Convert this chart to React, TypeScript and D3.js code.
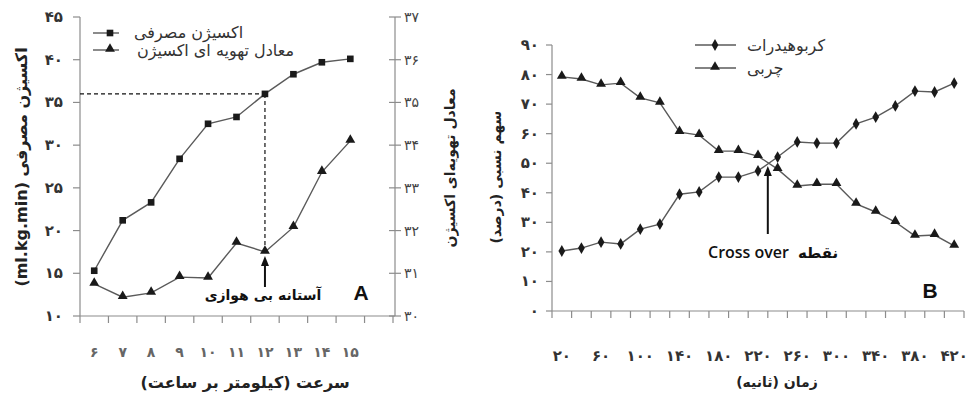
import React from "react";
import * as d3 from "d3";

// ---------- Panel A data ----------
const speeds = [6, 7, 8, 9, 10, 11, 12, 13, 14, 15];
const speedLabels = ["۶", "۷", "۸", "۹", "۱۰", "۱۱", "۱۲", "۱۳", "۱۴", "۱۵"];
const vo2 = [15.3, 21.2, 23.3, 28.4, 32.5, 33.3, 36.0, 38.3, 39.7, 40.1];
const ventEq = [30.75, 30.44, 30.54, 30.91, 30.89, 31.71, 31.5, 32.08, 33.37, 34.1];
const leftTicksA = [10, 15, 20, 25, 30, 35, 40, 45];
const leftTickLabelsA = ["۱۰", "۱۵", "۲۰", "۲۵", "۳۰", "۳۵", "۴۰", "۴۵"];
const rightTicksA = [30, 31, 32, 33, 34, 35, 36, 37];
const rightTickLabelsA = ["۳۰", "۳۱", "۳۲", "۳۳", "۳۴", "۳۵", "۳۶", "۳۷"];
const thresholdSpeed = 12;

// ---------- Panel B data ----------
const times = [20, 40, 60, 80, 100, 120, 140, 160, 180, 200, 220, 240, 260, 280, 300, 320, 340, 360, 380, 400, 420];
const carbs = [20.3, 21.3, 23.3, 22.7, 27.7, 29.4, 39.5, 40.3, 45.3, 45.3, 47.4, 52.1, 57.2, 56.8, 56.8, 63.3, 65.6, 69.4, 74.4, 74.1, 77.1];
const fat = [79.2, 78.5, 76.5, 77.1, 72.1, 70.4, 60.5, 59.5, 54.1, 54.1, 52.4, 48.0, 42.3, 42.9, 42.9, 36.2, 33.5, 30.1, 25.4, 25.7, 22.0];
const timeLabelValues = [20, 60, 100, 140, 180, 220, 260, 300, 340, 380, 420];
const timeLabels = ["۲۰", "۶۰", "۱۰۰", "۱۴۰", "۱۸۰", "۲۲۰", "۲۶۰", "۳۰۰", "۳۴۰", "۳۸۰", "۴۲۰"];
const yTicksB = [0, 10, 20, 30, 40, 50, 60, 70, 80, 90];
const yTickLabelsB = ["۰", "۱۰", "۲۰", "۳۰", "۴۰", "۵۰", "۶۰", "۷۰", "۸۰", "۹۰"];
const crossTime = 230;

const FA = "'DejaVu Sans', sans-serif";
const AXIS = "#8c8c8c";
const LINE = "#5a5a5a";
const MARK = "#1a1a1a";
const TXT = "#222";

function Arrow({ x, y1, y2 }: { x: number; y1: number; y2: number }) {
  return (
    <g>
      <line x1={x} x2={x} y1={y1} y2={y2 + 8} stroke="#111" strokeWidth={2} />
      <path d={`M${x},${y2} L${x - 4},${y2 + 10} L${x + 4},${y2 + 10} Z`} fill="#111" />
    </g>
  );
}

export default function App() {
  const xA = d3.scaleLinear().domain([5.5, 16.5]).range([80, 393]);
  const yL = d3.scaleLinear().domain([10, 45]).range([316, 17]);
  const yR = d3.scaleLinear().domain([30, 37]).range([316, 17]);
  const xB = d3.scaleLinear().domain([10, 430]).range([552, 964]);
  const yB = d3.scaleLinear().domain([0, 90]).range([311, 45]);

  const lineA1 = d3.line<number>().x((_, i) => xA(speeds[i])).y((d) => yL(d));
  const lineA2 = d3.line<number>().x((_, i) => xA(speeds[i])).y((d) => yR(d));
  const lineB = d3.line<number>().x((_, i) => xB(times[i])).y((d) => yB(d));

  const tri = d3.symbol().type(d3.symbolTriangle).size(42)()!;
  const dia = d3.symbol().type(d3.symbolDiamond).size(40)()!;
  const sq = d3.symbol().type(d3.symbolSquare).size(44)()!;

  const xTicksA = d3.range(5.5, 17, 1);
  const xTicksB = d3.range(10, 431, 20);

  const thrIdx = speeds.indexOf(thresholdSpeed);
  const thrX = xA(thresholdSpeed);
  const thrY = yL(vo2[thrIdx]);
  const thrTriY = yR(ventEq[thrIdx]);
  const crossX = xB(crossTime);

  return (
    <div style={{ position: "fixed", left: 0, top: 0 }}>
      <svg width={969} height={395} style={{ display: "block", background: "#fff" }}>
        {/* ================= Panel A ================= */}
        <line x1={80} x2={80} y1={yL(45)} y2={316} stroke={AXIS} strokeWidth={1.2} />
        <line x1={395} x2={395} y1={yR(37)} y2={316} stroke={AXIS} strokeWidth={1.2} />
        <line x1={80} x2={395} y1={316} y2={316} stroke={AXIS} strokeWidth={1.2} />
        {leftTicksA.map((t, i) => (
          <g key={"la" + t}>
            <line x1={73} x2={80} y1={yL(t)} y2={yL(t)} stroke={AXIS} strokeWidth={1.2} />
            <text x={63} y={yL(t) + 5} textAnchor="end" fontFamily={FA} fontWeight="bold" fontSize={15} fill="#333">
              {leftTickLabelsA[i]}
            </text>
          </g>
        ))}
        {rightTicksA.map((t, i) => (
          <g key={"ra" + t}>
            <line x1={389} x2={401} y1={yR(t)} y2={yR(t)} stroke={AXIS} strokeWidth={1.2} />
            <text x={404} y={yR(t) + 5} textAnchor="start" fontFamily={FA} fontSize={14} fill="#444">
              {rightTickLabelsA[i]}
            </text>
          </g>
        ))}
        {xTicksA.map((t) => (
          <line key={"xa" + t} x1={xA(t)} x2={xA(t)} y1={316} y2={323} stroke={AXIS} strokeWidth={1.2} />
        ))}
        {speeds.map((s, i) => (
          <text key={"xl" + s} x={xA(s)} y={357} textAnchor="middle" fontFamily={FA} fontWeight="bold" fontSize={14} fill="#666">
            {speedLabels[i]}
          </text>
        ))}
        <text transform="translate(27,167) rotate(-90)" textAnchor="middle" fontFamily={FA} fontWeight="bold" fontSize={16} fill={TXT}>
          (ml.kg.min) اکسیژن مصرفی
        </text>
        <text transform="translate(455,168) rotate(-90)" textAnchor="middle" fontFamily={FA} fontWeight="bold" fontSize={14} fill={TXT}>
          معادل تهویه‌ای اکسیژن
        </text>
        <text x={245} y={388} textAnchor="middle" direction="rtl" fontFamily={FA} fontWeight="bold" fontSize={16} fill={TXT}>
          سرعت (کیلومتر بر ساعت)
        </text>

        <line x1={80} x2={thrX} y1={thrY} y2={thrY} stroke="#111" strokeWidth={1.2} strokeDasharray="4,3" />
        <line x1={thrX} x2={thrX} y1={thrY} y2={thrTriY - 5} stroke="#111" strokeWidth={1.2} strokeDasharray="4,3" />

        <path d={lineA1(vo2)!} fill="none" stroke={LINE} strokeWidth={1.4} />
        <path d={lineA2(ventEq)!} fill="none" stroke={LINE} strokeWidth={1.4} />
        {vo2.map((v, i) => (
          <path key={"sq" + i} d={sq} transform={`translate(${xA(speeds[i])},${yL(v)})`} fill={MARK} />
        ))}
        {ventEq.map((v, i) => (
          <path key={"tr" + i} d={tri} transform={`translate(${xA(speeds[i])},${yR(v) - 1})`} fill={MARK} />
        ))}

        <Arrow x={thrX} y1={287} y2={256} />
        <text x={thrX - 2} y={300} textAnchor="middle" fontFamily={FA} fontWeight="bold" fontSize={14} fill="#111">
          آستانه بی هوازی
        </text>
        <text x={361} y={300} textAnchor="middle" fontFamily="'Liberation Sans', Arial, sans-serif" fontWeight="bold" fontSize={21} fill="#111">
          A
        </text>

        {/* legend A */}
        <line x1={93} x2={119} y1={33} y2={33} stroke={LINE} strokeWidth={1.4} />
        <path d={sq} transform="translate(110,33)" fill={MARK} />
        <text x={134} y={38} fontFamily={FA} fontSize={16} fill="#333">اکسیژن مصرفی</text>
        <line x1={93} x2={119} y1={50} y2={50} stroke={LINE} strokeWidth={1.4} />
        <path d={tri} transform="translate(110,49)" fill={MARK} />
        <text x={137} y={56} fontFamily={FA} fontSize={16} fill="#333">معادل تهویه ای اکسیژن</text>

        {/* ================= Panel B ================= */}
        <line x1={552} x2={552} y1={yB(90)} y2={311} stroke={AXIS} strokeWidth={1.2} />
        <line x1={552} x2={964} y1={311} y2={311} stroke={AXIS} strokeWidth={1.2} />
        {yTicksB.map((t, i) => (
          <g key={"yb" + t}>
            <line x1={546} x2={552} y1={yB(t)} y2={yB(t)} stroke={AXIS} strokeWidth={1.2} />
            <text x={539} y={yB(t) + 5} textAnchor="end" fontFamily={FA} fontWeight="bold" fontSize={15} fill="#333">
              {yTickLabelsB[i]}
            </text>
          </g>
        ))}
        {xTicksB.map((t) => (
          <line key={"xb" + t} x1={xB(t)} x2={xB(t)} y1={311} y2={318} stroke={AXIS} strokeWidth={1.2} />
        ))}
        {timeLabelValues.map((t, i) => (
          <text key={"tl" + t} x={xB(t)} y={361} textAnchor="middle" fontFamily={FA} fontWeight="bold" fontSize={15} fill="#333">
            {timeLabels[i]}
          </text>
        ))}
        <text transform="translate(501,177) rotate(-90)" textAnchor="middle" direction="rtl" fontFamily={FA} fontWeight="bold" fontSize={14} fill={TXT}>
          سهم نسبی (درصد)
        </text>
        <text x={777} y={387} textAnchor="middle" direction="rtl" fontFamily={FA} fontWeight="bold" fontSize={14} fill={TXT}>
          زمان (ثانیه)
        </text>

        <path d={lineB(carbs)!} fill="none" stroke={LINE} strokeWidth={1.4} />
        <path d={lineB(fat)!} fill="none" stroke={LINE} strokeWidth={1.4} />
        {carbs.map((v, i) => (
          <path key={"cd" + i} d={dia} transform={`translate(${xB(times[i])},${yB(v)})`} fill={MARK} />
        ))}
        {fat.map((v, i) => (
          <path key={"ft" + i} d={tri} transform={`translate(${xB(times[i])},${yB(v) - 1})`} fill={MARK} />
        ))}

        <Arrow x={crossX} y1={234} y2={166} />
        <text x={708} y={258} fontFamily="'Open Sans', sans-serif" fontWeight={600} fontSize={16} fill="#111">
          Cross over
        </text>
        <text x={798} y={258} fontFamily={FA} fontWeight="bold" fontSize={15} fill="#111">نقطه</text>
        <text x={930} y={298} textAnchor="middle" fontFamily="'Liberation Sans', Arial, sans-serif" fontWeight="bold" fontSize={21} fill="#111">
          B
        </text>

        {/* legend B */}
        <line x1={695} x2={736} y1={45} y2={45} stroke={LINE} strokeWidth={1.4} />
        <path d={dia} transform="translate(715,45)" fill={MARK} />
        <text x={747} y={51} fontFamily={FA} fontSize={16} fill="#333">کربوهیدرات</text>
        <line x1={695} x2={736} y1={68} y2={68} stroke={LINE} strokeWidth={1.4} />
        <path d={tri} transform="translate(715,67)" fill={MARK} />
        <text x={747} y={74} fontFamily={FA} fontSize={16} fill="#333">چربی</text>
      </svg>
    </div>
  );
}
